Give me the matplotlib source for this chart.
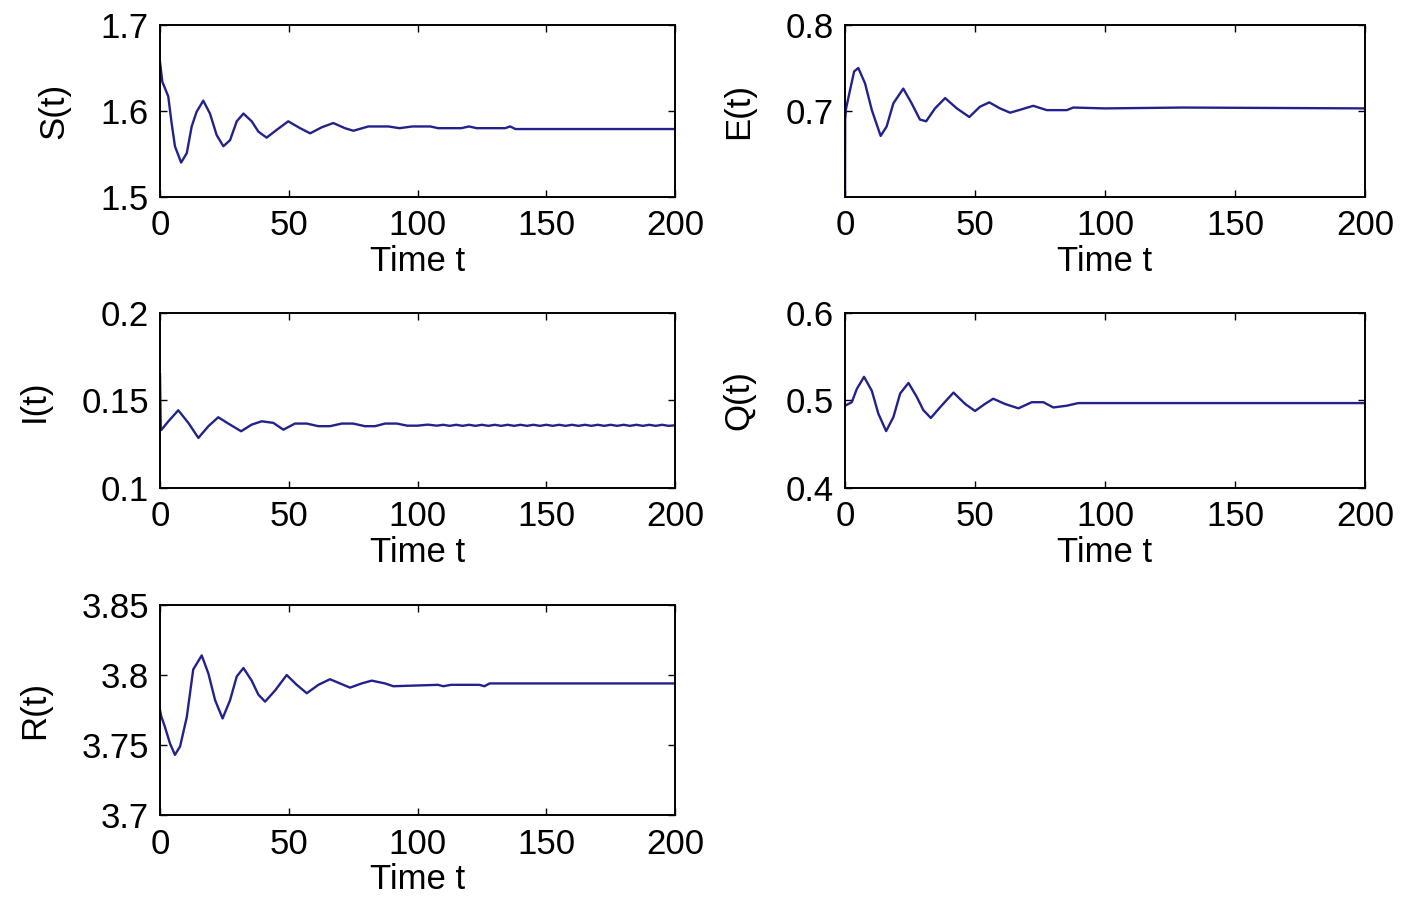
import matplotlib
matplotlib.use("Agg")
import matplotlib.pyplot as plt

plt.rcParams['font.family'] = ['Liberation Sans', 'DejaVu Sans']

# values
time_ticks = [0, 50, 100, 150, 200]

S_t = [0, 0.9, 3.2, 4.5, 5.8, 8.2, 10.4, 12.3, 14.2, 16.8, 19.4, 22, 24.6, 27.2, 29.8, 32.4,
       35.6, 38.2, 41.4, 45.3, 49.8, 54.4, 58.3, 62.8, 67.3, 71.8, 75.1, 80.9, 88.7, 93, 98,
       105, 108, 117, 120, 123, 134, 136, 138, 200]
S_v = [1.657, 1.634, 1.617, 1.586, 1.559, 1.540, 1.551, 1.582, 1.599, 1.612, 1.597, 1.572,
       1.559, 1.566, 1.588, 1.597, 1.588, 1.576, 1.569, 1.578, 1.588, 1.580, 1.574, 1.581,
       1.586, 1.580, 1.577, 1.582, 1.582, 1.580, 1.582, 1.582, 1.580, 1.580, 1.582, 1.580,
       1.580, 1.582, 1.579, 1.579]

E_t = [0, 0.05, 0.4, 1.9, 3.5, 5.1, 7.7, 10.3, 13.7, 16.0, 18.6, 22.4, 25.6, 28.8, 31.2,
       34.6, 38.5, 43.0, 47.8, 51.9, 55.5, 59.6, 63.5, 68, 72.4, 77.6, 85.3, 87.8, 100, 130, 200]
E_v = [0.600, 0.690, 0.703, 0.724, 0.746, 0.750, 0.732, 0.701, 0.671, 0.682, 0.709, 0.726,
       0.709, 0.690, 0.688, 0.703, 0.715, 0.703, 0.693, 0.705, 0.710, 0.703, 0.698, 0.702,
       0.706, 0.701, 0.701, 0.704, 0.703, 0.704, 0.703]

I_t = [0, 0.3, 0.6, 3.2, 7.1, 11, 14.9, 18.8, 22.6, 27.2, 31.5, 35.6, 39.5, 44, 47.9, 52.4,
       57, 61.5, 66, 70.6, 75, 79.6, 83.5, 87.4, 92, 96, 100, 104,
       107.5, 110, 112.5, 115, 117.5, 120, 122.5, 125, 127.5, 130, 132.5, 135, 137.5, 140,
       142.5, 145, 147.5, 150, 152.5, 155, 157.5, 160, 162.5, 165, 167.5, 170, 172.5, 175,
       177.5, 180, 182.5, 185, 187.5, 190, 192.5, 195, 197.5, 200]
I_v = [0.165, 0.133, 0.1333, 0.138, 0.1444, 0.1372, 0.1286, 0.1353, 0.1404, 0.1362, 0.1324,
       0.1362, 0.1381, 0.1372, 0.1333, 0.1368, 0.1368, 0.1353, 0.1353, 0.1368, 0.1368, 0.1353,
       0.1353, 0.1368, 0.1368, 0.1356, 0.1356, 0.1362,
       0.1356, 0.1361, 0.1355, 0.1361, 0.1355, 0.1361, 0.1355, 0.1361, 0.1355, 0.1361, 0.1355,
       0.1361, 0.1355, 0.1361, 0.1355, 0.1361, 0.1355, 0.1361, 0.1355, 0.1361, 0.1355, 0.1361,
       0.1355, 0.1361, 0.1355, 0.1361, 0.1355, 0.1361, 0.1355, 0.1361, 0.1355, 0.1361, 0.1355,
       0.1361, 0.1355, 0.1361, 0.1355, 0.1358]

Q_t = [0, 2.6, 4.5, 7.3, 10.3, 12.8, 15.8, 18.6, 21.2, 24.4, 27.6, 30.1, 33, 36.5, 41.7,
       46.2, 50, 53.8, 57, 61.5, 66.7, 71.8, 76.3, 80.1, 85.3, 89.7, 200]
Q_v = [0.494, 0.498, 0.513, 0.527, 0.511, 0.485, 0.465, 0.481, 0.508, 0.520, 0.504, 0.489,
       0.480, 0.492, 0.509, 0.496, 0.488, 0.496, 0.502, 0.496, 0.491, 0.498, 0.498, 0.492,
       0.494, 0.497, 0.497]

R_t = [0, 0.4, 1.9, 3.9, 5.8, 7.8, 10.4, 12.9, 16.2, 18.8, 21.4, 24.3, 27.2, 29.8, 32.4,
       35.6, 38.2, 40.8, 44.7, 49.2, 53.1, 57, 61.5, 66, 69.9, 73.8, 78.3, 82.2, 87.4, 90.6,
       108, 110, 113, 124, 126, 128, 200]
R_v = [3.775, 3.771, 3.763, 3.751, 3.743, 3.749, 3.770, 3.804, 3.814, 3.801, 3.782, 3.769,
       3.782, 3.799, 3.805, 3.796, 3.786, 3.781, 3.789, 3.800, 3.793, 3.787, 3.793, 3.797,
       3.794, 3.791, 3.794, 3.796, 3.794, 3.792, 3.793, 3.792, 3.793, 3.793, 3.792, 3.794,
       3.794]

S_ticks = [1.5, 1.6, 1.7]
S_labels = ["1.5", "1.6", "1.7"]
E_ticks = [0.7, 0.8]
E_labels = ["0.7", "0.8"]
I_ticks = [0.1, 0.15, 0.2]
I_labels = ["0.1", "0.15", "0.2"]
Q_ticks = [0.4, 0.5, 0.6]
Q_labels = ["0.4", "0.5", "0.6"]
R_ticks = [3.7, 3.75, 3.8, 3.85]
R_labels = ["3.7", "3.75", "3.8", "3.85"]

line_color = '#22228c'
fs = 25

fig = plt.figure(figsize=(14.11, 8.99), dpi=100)

panels = [
    # (rect, t, values, ylim, ticks, labels, ylabel)
    ([0.1134, 0.7809, 0.365, 0.1913], S_t, S_v, (1.5, 1.7), S_ticks, S_labels, 'S(t)'),
    ([0.5989, 0.7809, 0.3685, 0.1913], E_t, E_v, (0.6, 0.8), E_ticks, E_labels, 'E(t)'),
    ([0.1134, 0.4572, 0.365, 0.1947], I_t, I_v, (0.1, 0.2), I_ticks, I_labels, 'I(t)'),
    ([0.5989, 0.4572, 0.3685, 0.1947], Q_t, Q_v, (0.4, 0.6), Q_ticks, Q_labels, 'Q(t)'),
    ([0.1134, 0.0934, 0.365, 0.2336], R_t, R_v, (3.7, 3.85), R_ticks, R_labels, 'R(t)'),
]

for rect, t, v, ylim, ticks, labels, ylab in panels:
    ax = fig.add_axes(rect)
    ax.plot(t, v, color=line_color, linewidth=1.7)
    ax.set_xlim(0, 200)
    ax.set_ylim(*ylim)
    ax.set_xticks(time_ticks)
    ax.set_xticklabels([str(x) for x in time_ticks])
    ax.set_yticks(ticks)
    ax.set_yticklabels(labels)
    ax.tick_params(direction='in', top=True, right=True, length=5, width=1,
                   labelsize=fs)
    ax.tick_params(axis='x', pad=9)
    ax.tick_params(axis='y', pad=8)
    for sp in ax.spines.values():
        sp.set_linewidth(1.4)
    ax.set_xlabel('Time t', fontsize=fs, labelpad=2)
    ax.set_ylabel(ylab, fontsize=fs, labelpad=22)

fig.savefig('out.png', dpi=100, facecolor='white')
